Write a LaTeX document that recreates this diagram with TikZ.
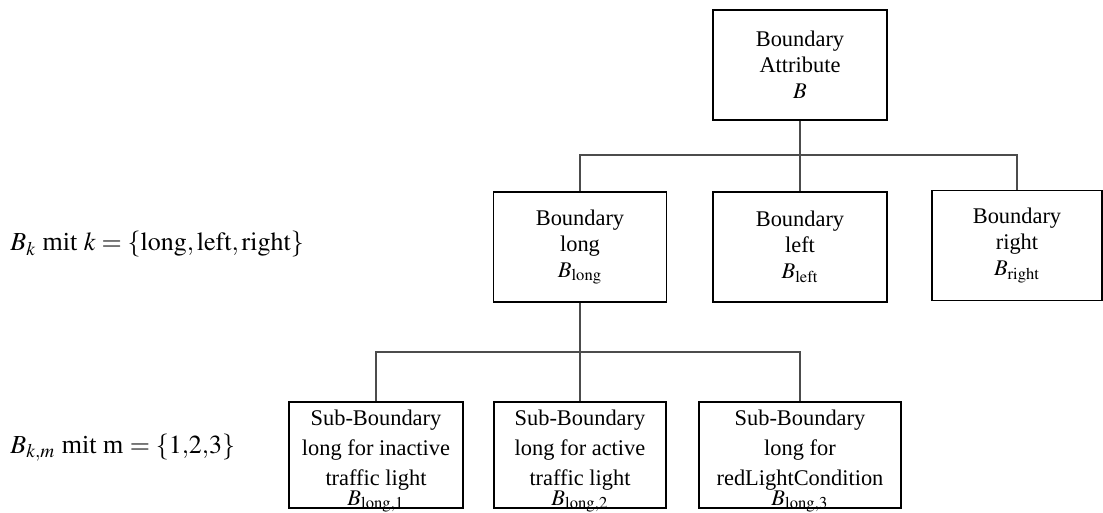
\documentclass[tikz,border=0pt]{standalone}
\usepackage{mathptmx}
\usepackage{fontspec}
\setmainfont{Liberation Serif}
% fixed-size text block for the lowest level: first baseline 11.5pt below the top
\newcommand{\subtext}[2]{%
  \parbox[c][53pt][t]{#1}{\centering\rule{0pt}{11.5pt}#2}}
\begin{document}
\begin{tikzpicture}[x=0.5pt,y=-0.5pt,
  box/.style={draw=black, line width=0.9pt, align=center, inner sep=0pt,
    font=\fontsize{11.2}{13}\selectfont, minimum height=55pt},
  subbox/.style={draw=black, line width=0.9pt, inner sep=0pt,
    font=\fontsize{11.2}{15}\selectfont},
  link/.style={draw=black!70, line width=0.55pt},
  formula/.style={anchor=base west, inner sep=0pt, font=\fontsize{13}{15}\selectfont}]
\useasboundingbox (0,0) rectangle (1103,513);

% root
\node[box, minimum width=87pt] (attr) at (800,65) {Boundary\\Attribute\\$B$};

% boundary types
\node[box, minimum width=86.5pt] (blong) at (580,247) {Boundary\\long\\$B_{\mathrm{long}}$};
\node[box, minimum width=87pt] (bleft) at (800,247) {Boundary\\left\\$B_{\mathrm{left}}$};
\node[box, minimum width=85pt] (bright) at (1017,245.5) {Boundary\\right\\$B_{\mathrm{right}}$};

% sub-boundaries of B_long (last line set tight against the one above)
\node[subbox] (sub1) at (376,455)
  {\subtext{87pt}{Sub-Boundary\\long for inactive\\traffic light\\[-5pt]$\smash{B_{\mathrm{long,1}}}$}};
\node[subbox] (sub2) at (580,455)
  {\subtext{86pt}{Sub-Boundary\\long for active\\traffic light\\[-5pt]$\smash{B_{\mathrm{long,2}}}$}};
\node[subbox] (sub3) at (800,455)
  {\subtext{101pt}{Sub-Boundary\\long for\\redLightCondition\\[-5pt]$\smash{B_{\mathrm{long,3}}}$}};

% tree connectors
\coordinate (j1) at (800,155);
\coordinate (j2) at (580,352);
\draw[link] (attr.south) -- (bleft.north);
\draw[link] (blong.north) |- (j1) -| (bright.north);
\draw[link] (blong.south) -- (sub2.north);
\draw[link] (sub1.north) |- (j2) -| (sub3.north);

% level descriptions
\node[formula] (fk) at (10,251) {$B_k$ mit $k=\{\mathrm{long},\mathrm{left},\mathrm{right}\}$};
\node[formula] (fkm) at (10,453) {$B_{k,m}$ mit m $=\{1{,}2{,}3\}$};
\end{tikzpicture}
\end{document}
